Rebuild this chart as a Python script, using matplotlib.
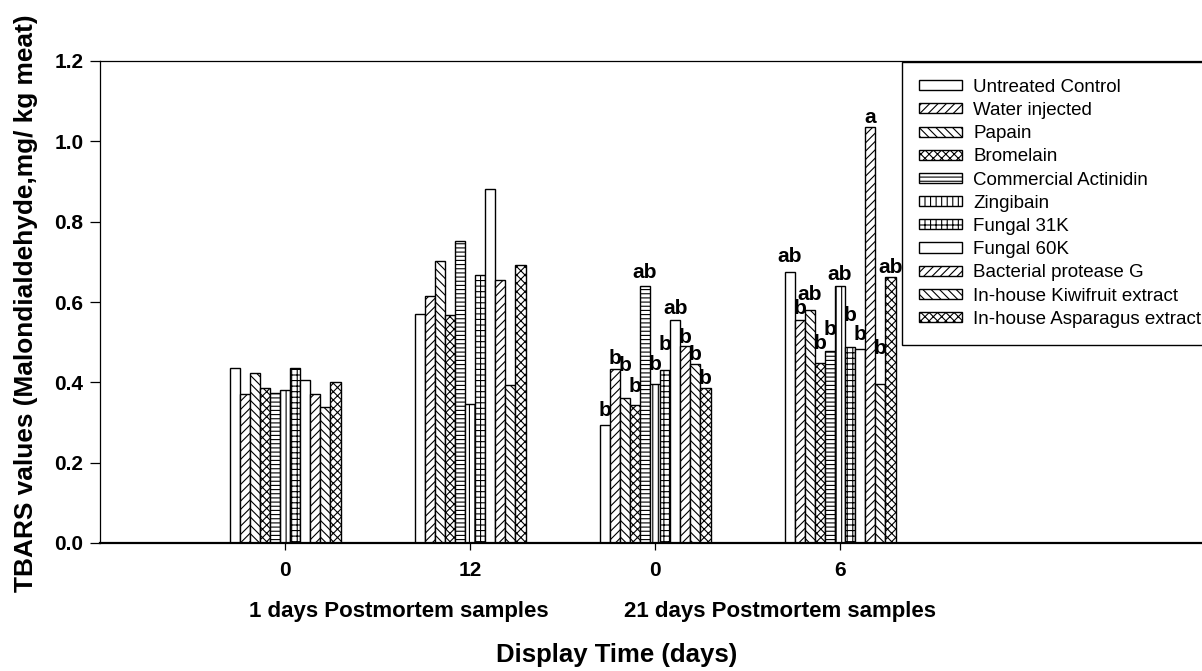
import numpy as np
import matplotlib
matplotlib.use("Agg")
import matplotlib.pyplot as plt

plt.rcParams['font.family'] = ['Liberation Sans', 'DejaVu Sans']
plt.rcParams['hatch.linewidth'] = 0.8
plt.rcParams['hatch.color'] = 'black'

#%% TBARS data, one list per treatment (display day 0/12 at 1 d, 0/6 at 21 d postmortem)

time_labels = ["0", "12", "0", "6"]
treatments = ["Untreated Control", "Water injected", "Papain", "Bromelain",
              "Commercial Actinidin", "Zingibain", "Fungal 31K", "Fungal 60K",
              "Bacterial protease G", "In-house Kiwifruit extract",
              "In-house Asparagus extract"]

untreated = [0.435, 0.570, 0.295, 0.675]
water = [0.371, 0.615, 0.432, 0.556]
papain = [0.424, 0.701, 0.362, 0.580]
bromelain = [0.386, 0.568, 0.344, 0.447]
actinidin = [0.374, 0.751, 0.640, 0.477]
zingibain = [0.381, 0.347, 0.395, 0.639]
fungal31 = [0.436, 0.668, 0.430, 0.487]
fungal60 = [0.407, 0.881, 0.555, 0.482]
bacterial = [0.371, 0.656, 0.491, 1.036]
kiwifruit = [0.339, 0.393, 0.445, 0.396]
asparagus = [0.402, 0.693, 0.386, 0.662]

# significance letters for the 21 day samples (groups 3 and 4)
letters_21d_0 = ["b", "b", "b", "b", "ab", "b", "b", "ab", "b", "b", "b"]
letters_21d_6 = ["ab", "b", "ab", "b", "b", "ab", "b", "b", "a", "b", "ab"]

values = [untreated, water, papain, bromelain, actinidin, zingibain,
          fungal31, fungal60, bacterial, kiwifruit, asparagus]
hatches = [None, "////", "\\\\\\\\", "xxxx", "----", "|||", "+++", None,
           "////", "\\\\\\\\", "xxxx"]

# letter lift above the bar top (pixels), staggered so neighbours don't collide
lift_21d_0 = [9, 5, 27, 13, 8, 14, 20, 6, 3, 4, 4]
lift_21d_6 = [10, 6, 10, 14, 16, 6, 26, 9, 4, 30, 4]

#%% PLOT

fig = plt.figure(figsize=(12.02, 6.71), dpi=100)
ax = fig.add_axes([100 / 1202, 128 / 671, 1110 / 1202, 482 / 671])

x = np.arange(1, len(time_labels) + 1)
n = len(treatments)
width = 0.6 / n

for i, (name, vals, h) in enumerate(zip(treatments, values, hatches)):
    pos = x + (i - (n - 1) / 2) * width
    ax.bar(pos, vals, width, color="white", edgecolor="black",
           linewidth=1.0, hatch=h, label=name)
    for j, lets, lift in ((2, letters_21d_0, lift_21d_0),
                          (3, letters_21d_6, lift_21d_6)):
        ax.annotate(lets[i], (pos[j], vals[j]), xytext=(0, lift[i]),
                    textcoords="offset pixels", ha="center", va="baseline",
                    fontsize=15, fontweight="bold")

ax.set_xlim(0, 6)
ax.set_ylim(0, 1.2)
ax.set_xticks(x)
ax.set_xticklabels(time_labels, fontsize=15, fontweight="bold")
ax.set_yticks(np.arange(0, 1.21, 0.2))
ax.set_yticklabels(["%.1f" % v for v in np.arange(0, 1.21, 0.2)],
                   fontsize=15, fontweight="bold")
ax.tick_params(axis="y", length=7, width=0.9, pad=5)
ax.tick_params(axis="x", length=5, width=0.9, pad=8)
ax.spines["right"].set_visible(False)
ax.spines["left"].set_linewidth(0.9)
ax.spines["top"].set_linewidth(0.9)
ax.spines["bottom"].set_linewidth(1.6)

fig.text(399 / 1202, 1 - 612 / 671, "1 days Postmortem samples",
         ha="center", va="center", fontsize=16, fontweight="bold")
fig.text(780 / 1202, 1 - 612 / 671, "21 days Postmortem samples",
         ha="center", va="center", fontsize=16, fontweight="bold")
fig.text(617 / 1202, 1 - 655 / 671, "Display Time (days)",
         ha="center", va="center", fontsize=18.5, fontweight="bold")
fig.text(26 / 1202, 1 - 303 / 671, "TBARS values (Malondialdehyde,mg/ kg meat)",
         ha="center", va="center", rotation=90, fontsize=18.9, fontweight="bold")

leg = fig.legend(loc="upper left", bbox_to_anchor=(902 / 1202, 1 - 62 / 671),
                 borderaxespad=0, fontsize=13.5, frameon=True, fancybox=False,
                 edgecolor="black", framealpha=1, borderpad=0.9,
                 handlelength=2.3, handleheight=0.45, handletextpad=0.6,
                 labelspacing=0.33)
leg.get_frame().set_linewidth(1.0)

fig.savefig("out.png", dpi=100)
